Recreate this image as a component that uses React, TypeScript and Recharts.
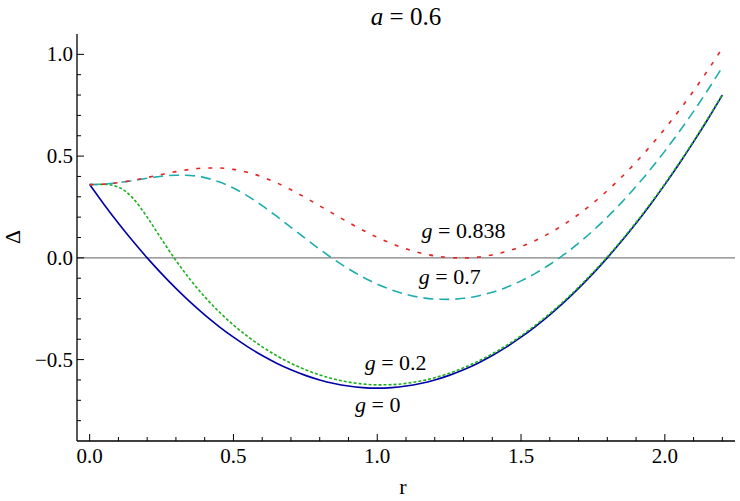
import {
  LineChart, Line, XAxis, YAxis, ReferenceLine, ReferenceDot,
} from 'recharts'

// Δ(r) for a = 0.6, four values of g
const R = [
  0, 0.05, 0.1, 0.15, 0.2, 0.25, 0.3, 0.35, 0.4, 0.45, 0.5, 0.55, 0.6, 0.65, 0.7, 0.75,
  0.8, 0.85, 0.9, 0.95, 1.0, 1.05, 1.1, 1.15, 1.2, 1.25, 1.3, 1.35, 1.4, 1.45, 1.5,
  1.55, 1.6, 1.65, 1.7, 1.75, 1.8, 1.85, 1.9, 1.95, 2.0, 2.05, 2.1, 2.15, 2.2,
]
const G_0 = [
  0.36, 0.2625, 0.17, 0.0825, 0, -0.0775, -0.15, -0.2175, -0.28, -0.3375, -0.39, -0.4375,
  -0.48, -0.5175, -0.55, -0.5775, -0.6, -0.6175, -0.63, -0.6375, -0.64, -0.6375, -0.63,
  -0.6175, -0.6, -0.5775, -0.55, -0.5175, -0.48, -0.4375, -0.39, -0.3375, -0.28, -0.2175,
  -0.15, -0.0775, 0, 0.0825, 0.17, 0.2625, 0.36, 0.4625, 0.57, 0.6825, 0.8,
]
const G_02 = [
  0.36, 0.361, 0.3478, 0.2935, 0.2, 0.0918, -0.0129, -0.1074, -0.1911, -0.2649, -0.3298,
  -0.387, -0.4371, -0.4807, -0.5181, -0.5496, -0.5754, -0.5956, -0.6105, -0.6199, -0.6241,
  -0.6231, -0.6169, -0.6055, -0.5889, -0.5673, -0.5406, -0.5087, -0.4719, -0.4299, -0.3829,
  -0.3309, -0.2738, -0.2117, -0.1445, -0.0723, 0.0049, 0.0872, 0.1744, 0.2667, 0.364,
  0.4663, 0.5736, 0.686, 0.8033,
]
const G_07 = [
  0.36, 0.3625, 0.3694, 0.3796, 0.3909, 0.4007, 0.4062, 0.4047, 0.3942, 0.3736, 0.3429,
  0.3032, 0.2563, 0.2045, 0.15, 0.0952, 0.0419, -0.0083, -0.0541, -0.0946, -0.1292, -0.1575,
  -0.1792, -0.1942, -0.2025, -0.204, -0.1989, -0.1871, -0.1689, -0.1442, -0.1132, -0.0761,
  -0.0327, 0.0166, 0.0719, 0.133, 0.2, 0.2726, 0.351, 0.4349, 0.5244, 0.6195, 0.72, 0.8259,
  0.9373,
]
const G_0838 = [
  0.36, 0.3625, 0.3697, 0.3808, 0.3946, 0.4096, 0.4237, 0.435, 0.4415, 0.4418, 0.4348, 0.42,
  0.3978, 0.3689, 0.3345, 0.2962, 0.2556, 0.2144, 0.174, 0.1358, 0.1009, 0.0702, 0.0445,
  0.0242, 0.0097, 0.0013, -0.0007, 0.0036, 0.0144, 0.0317, 0.0554, 0.0855, 0.122, 0.1648,
  0.2137, 0.2688, 0.33, 0.3971, 0.4703, 0.5493, 0.6341, 0.7246, 0.8209, 0.9229, 1.0304,
]

const X_TICKS = [
  0, 0.1, 0.2, 0.3, 0.4, 0.5, 0.6, 0.7, 0.8, 0.9, 1.0, 1.1,
  1.2, 1.3, 1.4, 1.5, 1.6, 1.7, 1.8, 1.9, 2.0, 2.1, 2.2,
]
const Y_TICKS = [
  -0.8, -0.7, -0.6, -0.5, -0.4, -0.3, -0.2, -0.1, 0, 0.1,
  0.2, 0.3, 0.4, 0.5, 0.6, 0.7, 0.8, 0.9, 1.0,
]

// label anchors (data coords, text baseline)
const LABELS = ['0.838', '0.7', '0.2', '0']
const LABEL_R = [1.30, 1.252, 1.064, 1.002]
const LABEL_D = [0.097, -0.129, -0.552, -0.759]

const data = R.map((r, i) => ({
  r, g0: G_0[i], g02: G_02[i], g07: G_07[i], g0838: G_0838[i],
}))

const FONT = 'Liberation Serif'
const MAJOR = 7
const MINOR = 4
const isMajor = (v: number) => Math.abs(v * 2 - Math.round(v * 2)) < 1e-6
const fmt = (v: number) => (v < -1e-9 ? '\u2212' : '') + Math.abs(v).toFixed(1)

function BottomTick({ x, y, payload }: any) {
  const major = isMajor(payload.value)
  return (
    <g>
      <line x1={x} y1={y} x2={x} y2={y - (major ? MAJOR : MINOR)} stroke="#000" strokeWidth={1} />
      {major && (
        <text x={x} y={y + 22} textAnchor="middle" fontFamily={FONT} fontSize={21} fill="#000">
          {fmt(payload.value)}
        </text>
      )}
    </g>
  )
}

function TopTick({ x, y, payload }: any) {
  const major = isMajor(payload.value)
  return <line x1={x} y1={y} x2={x} y2={y + (major ? MAJOR : MINOR)} stroke="#000" strokeWidth={1} />
}

function LeftTick({ x, y, payload }: any) {
  const major = isMajor(payload.value)
  return (
    <g>
      <line x1={x} y1={y} x2={x + (major ? MAJOR : MINOR)} y2={y} stroke="#000" strokeWidth={1} />
      {major && (
        <text x={x - 4} y={y + 7} textAnchor="end" fontFamily={FONT} fontSize={21} fill="#000">
          {fmt(payload.value)}
        </text>
      )}
    </g>
  )
}

function RightTick({ x, y, payload }: any) {
  const major = isMajor(payload.value)
  return <line x1={x} y1={y} x2={x - (major ? MAJOR : MINOR)} y2={y} stroke="#000" strokeWidth={1} />
}

function GLabel({ viewBox, text }: any) {
  const cx = viewBox.x + viewBox.width / 2
  const cy = viewBox.y + viewBox.height / 2
  return (
    <text x={cx} y={cy} textAnchor="middle" fontFamily={FONT} fontSize={22} fill="#000">
      <tspan fontStyle="italic">g</tspan> = {text}
    </text>
  )
}

const overlay = { position: 'absolute' as const, fontFamily: FONT, color: '#000', lineHeight: 1 }

export default function App() {
  return (
    <div style={{ position: 'absolute', left: 0, top: 0, width: 740, height: 501, background: '#fff' }}>
      <LineChart width={740} height={501} data={data}
        margin={{ top: 34, right: 5, bottom: 20, left: 0 }}>
        <XAxis xAxisId="b" dataKey="r" type="number" domain={[-0.044, 2.244]} allowDataOverflow
          ticks={X_TICKS} interval={0} tickSize={0} tickMargin={0} height={40}
          axisLine={{ stroke: '#000', strokeWidth: 1.3 }} tickLine={false} tick={<BottomTick />} />
        <XAxis xAxisId="t" orientation="top" dataKey="r" type="number" domain={[-0.044, 2.244]}
          allowDataOverflow ticks={X_TICKS} interval={0} tickSize={0} tickMargin={0} height={0}
          axisLine={{ stroke: '#000', strokeWidth: 1.3 }} tickLine={false} tick={<TopTick />} />
        <YAxis yAxisId="l" type="number" domain={[-0.9, 1.1]} allowDataOverflow
          ticks={Y_TICKS} interval={0} tickSize={0} tickMargin={0} width={77}
          axisLine={{ stroke: '#000', strokeWidth: 1.3 }} tickLine={false} tick={<LeftTick />} />
        <YAxis yAxisId="r" orientation="right" type="number" domain={[-0.9, 1.1]} allowDataOverflow
          ticks={Y_TICKS} interval={0} tickSize={0} tickMargin={0} width={0}
          axisLine={{ stroke: '#000', strokeWidth: 1.3 }} tickLine={false} tick={<RightTick />} />

        <ReferenceLine xAxisId="b" yAxisId="l" y={0} stroke="#808080" strokeWidth={1.2} />

        <Line xAxisId="b" yAxisId="l" type="monotone" dataKey="g0" stroke="#0000a8"
          strokeWidth={1.6} dot={false} isAnimationActive={false} />
        <Line xAxisId="b" yAxisId="l" type="monotone" dataKey="g02" stroke="#1cb01c"
          strokeWidth={1.6} strokeDasharray="3 2" dot={false} isAnimationActive={false} />
        <Line xAxisId="b" yAxisId="l" type="monotone" dataKey="g07" stroke="#1eacac"
          strokeWidth={1.6} strokeDasharray="10 6" dot={false} isAnimationActive={false} />
        <Line xAxisId="b" yAxisId="l" type="monotone" dataKey="g0838" stroke="#e62222"
          strokeWidth={1.6} strokeDasharray="4 8" dot={false} isAnimationActive={false} />

        {LABELS.map((t, i) => (
          <ReferenceDot key={t} xAxisId="b" yAxisId="l" x={LABEL_R[i]} y={LABEL_D[i]} r={0}
            fill="none" stroke="none" label={(p: any) => <GLabel {...p} text={t} />} />
        ))}
      </LineChart>

      <div style={{ ...overlay, left: 306, width: 200, top: 4, fontSize: 25, textAlign: 'center' }}>
        <i>a</i> = 0.6
      </div>
      <div style={{ ...overlay, left: 303, width: 200, top: 476, fontSize: 22, textAlign: 'center' }}>
        r
      </div>
      <div style={{
        ...overlay, left: 2, top: 227, width: 20, height: 20, fontSize: 22, textAlign: 'center',
        transform: 'rotate(-90deg)',
      }}>
        Δ
      </div>
    </div>
  )
}
